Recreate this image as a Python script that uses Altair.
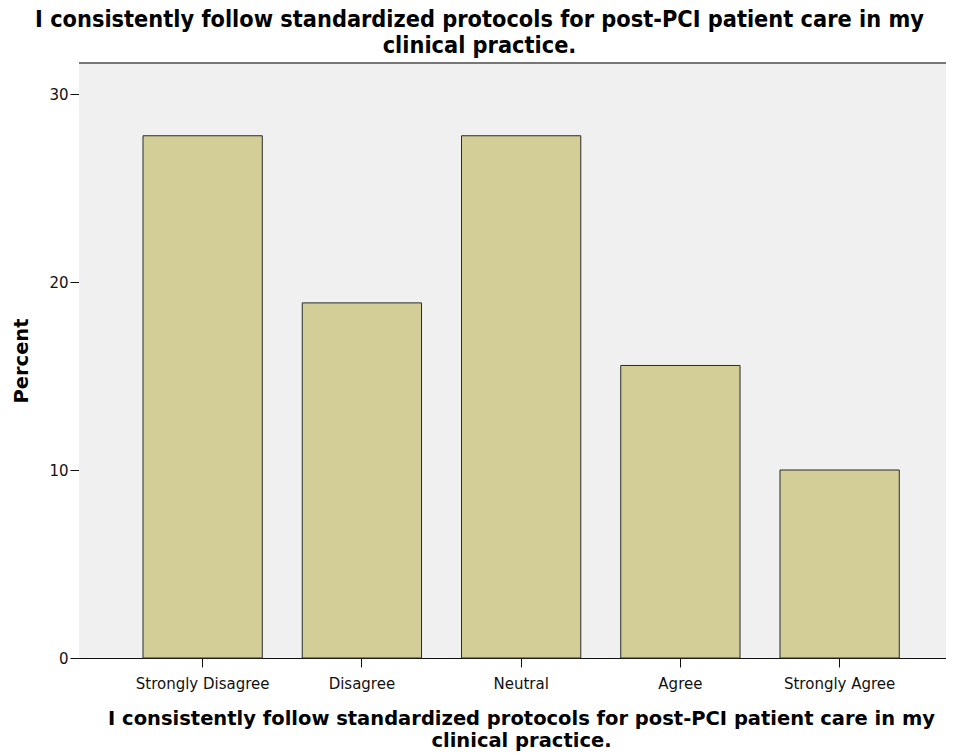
import altair as alt
import pandas as pd

categories = ["Strongly Disagree", "Disagree", "Neutral", "Agree", "Strongly Agree"]
percents = [27.78, 18.89, 27.78, 15.56, 10.0]
y_ticks = [0, 10, 20, 30]
title_lines = ["I consistently follow standardized protocols for post-PCI patient care in my",
               "clinical practice."]

df = pd.DataFrame({"Response": categories, "Percent": percents})

W, H = 867, 595

background = alt.Chart(df).mark_rect(fill="#F0F0F0").encode(
    x=alt.value(0), x2=alt.value(W), y=alt.value(0), y2=alt.value(H)
)

bars = alt.Chart(df).mark_bar(
    fill="#D3CE97", stroke="#2b2b2b", strokeWidth=1
).encode(
    x=alt.X("Response:N", sort=categories,
            scale=alt.Scale(paddingInner=0.251, paddingOuter=0.3477, align=0.578),
            axis=alt.Axis(title=title_lines, labelAngle=0, labelFont="DejaVu Sans",
                          labelFontSize=15, labelColor="#111", labelPadding=9,
                          tickSize=9, tickColor="#111", domainColor="#111",
                          titleFont="DejaVu Sans", titleFontWeight="bold",
                          titleFontSize=19.5, titleColor="#000", titlePadding=18,
                          titleLineHeight=22, titleX=442)),
    y=alt.Y("Percent:Q", scale=alt.Scale(domain=[0, 31.65], nice=False, zero=True),
            axis=alt.Axis(title="Percent", values=y_ticks, grid=False,
                          labelFont="DejaVu Sans", labelFontSize=15, labelColor="#111",
                          labelPadding=2, tickSize=9, tickColor="#111", domainColor="#111",
                          titleFont="DejaVu Sans", titleFontWeight="bold",
                          titleFontSize=19.5, titleColor="#000", titlePadding=17)),
)

top_border = alt.Chart(df).mark_rule(color="#777", strokeWidth=2).encode(
    x=alt.value(0), x2=alt.value(W), y=alt.value(0)
)

chart = alt.layer(background, bars, top_border).properties(
    width=W, height=H,
    title=alt.TitleParams(title_lines, font="DejaVu Sans Condensed, DejaVu Sans",
                          fontWeight="bold", fontSize=23.3, color="#000",
                          anchor="middle", dx=-33, offset=4, lineHeight=26),
    autosize=alt.AutoSizeParams(type="none"),
    padding={"left": 71, "top": 55, "right": 0, "bottom": 97},
).configure_view(stroke=None).configure(background="white")

chart.save("out.html", embed_options={"renderer": "svg", "actions": False})
